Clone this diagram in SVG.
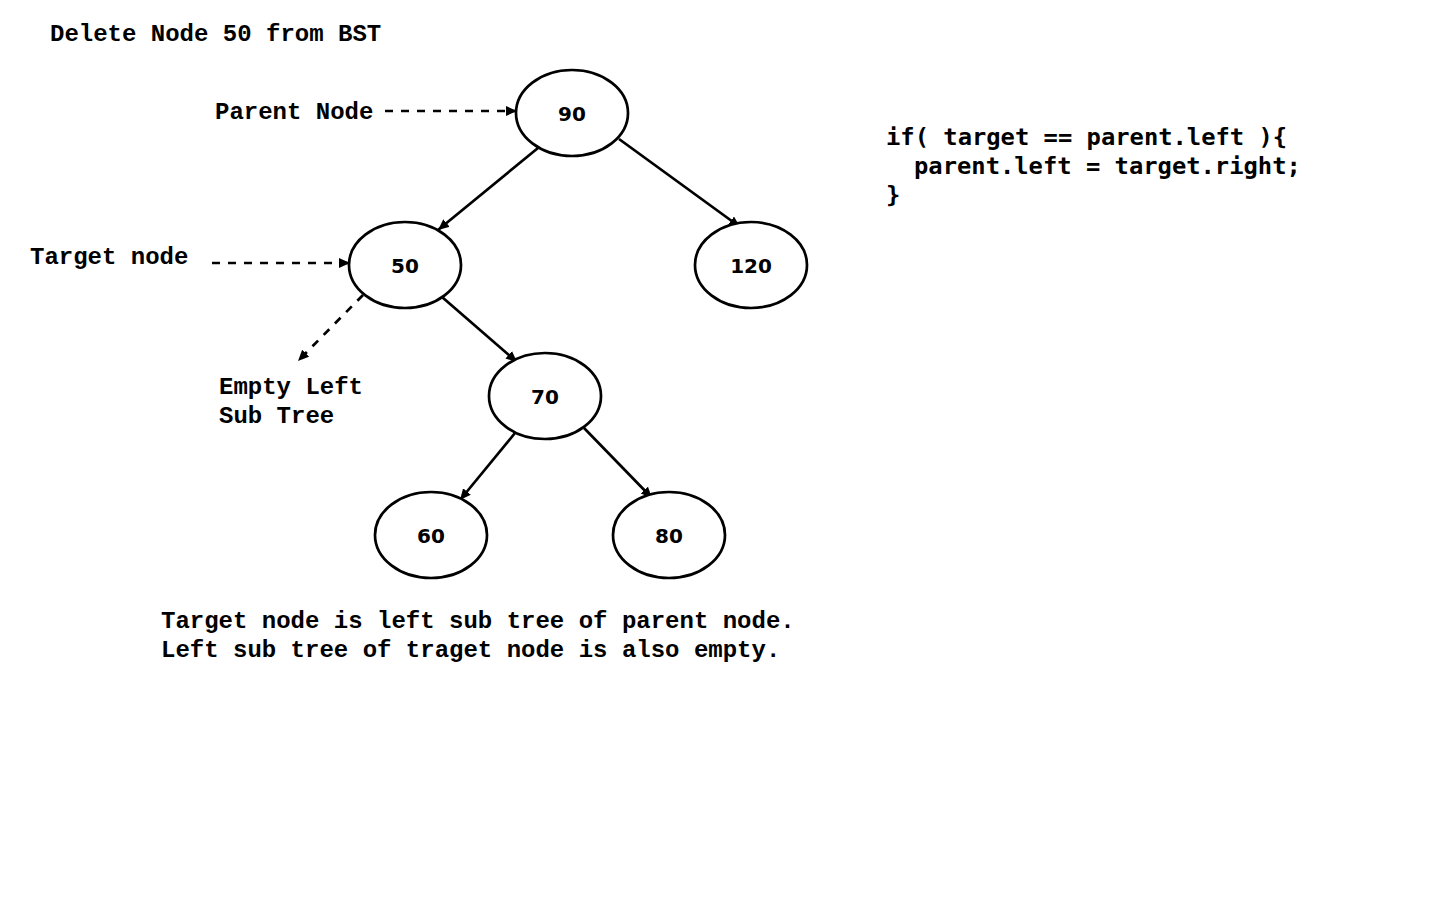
<svg xmlns="http://www.w3.org/2000/svg" width="1440" height="900" viewBox="0 0 1440 900">
<defs>
<style>
.t{font-family:"Liberation Mono","Courier New",monospace;font-weight:bold;font-size:24px;fill:#000}
.c{font-family:"DejaVu Sans Mono",monospace;font-weight:bold;font-size:23.8px;fill:#000}
.n{font-family:"DejaVu Sans","Verdana",sans-serif;font-weight:bold;font-size:20px;fill:#000;text-anchor:middle}
.e{fill:#fff;stroke:#000;stroke-width:2.7}
.l{stroke:#000;stroke-width:2.7;fill:none;marker-end:url(#ah)}
.d{stroke-dasharray:8 8}
</style>
<marker id="ah" markerUnits="userSpaceOnUse" markerWidth="13" markerHeight="11" refX="11" refY="5" orient="auto">
<path d="M0,0 L11,5 L0,10 z" fill="#000"/>
</marker>
</defs>
<rect width="1440" height="900" fill="#fff"/>
<g id="connectors">
<line class="l" x1="538" y1="148" x2="438" y2="230"/>
<line class="l" x1="619" y1="139" x2="740" y2="227"/>
<line class="l" x1="442" y1="297" x2="517" y2="362"/>
<line class="l" x1="515" y1="433" x2="460" y2="500"/>
<line class="l" x1="584" y1="428" x2="652" y2="498"/>
<line class="l d" x1="363" y1="295" x2="298" y2="361"/>
<line class="l d" x1="385" y1="111" x2="517" y2="111"/>
<line class="l d" x1="212" y1="263" x2="350" y2="263"/>
</g>
<g id="node90"><ellipse class="e" cx="572" cy="113" rx="56" ry="43"/><text class="n" x="572" y="121">90</text></g>
<g id="node50"><ellipse class="e" cx="405" cy="265" rx="56" ry="43"/><text class="n" x="405" y="273">50</text></g>
<g id="node120"><ellipse class="e" cx="751" cy="265" rx="56" ry="43"/><text class="n" x="751" y="273">120</text></g>
<g id="node70"><ellipse class="e" cx="545" cy="396" rx="56" ry="43"/><text class="n" x="545" y="404">70</text></g>
<g id="node60"><ellipse class="e" cx="431" cy="535" rx="56" ry="43"/><text class="n" x="431" y="543">60</text></g>
<g id="node80"><ellipse class="e" cx="669" cy="535" rx="56" ry="43"/><text class="n" x="669" y="543">80</text></g>
<g id="labels">
<text class="t" x="50" y="41">Delete Node 50 from BST</text>
<text class="t" x="215" y="119">Parent Node</text>
<text class="t" x="30" y="264">Target node</text>
<text class="t" x="219" y="394">Empty Left</text>
<text class="t" x="219" y="423">Sub Tree</text>
<text class="t" x="161" y="628">Target node is left sub tree of parent node.</text>
<text class="t" x="161" y="657">Left sub tree of traget node is also empty.</text>
<text class="c" x="886" y="145">if( target == parent.left ){</text>
<text class="c" x="914" y="174">parent.left = target.right;</text>
<text class="c" x="886" y="203">}</text>
</g>
</svg>
